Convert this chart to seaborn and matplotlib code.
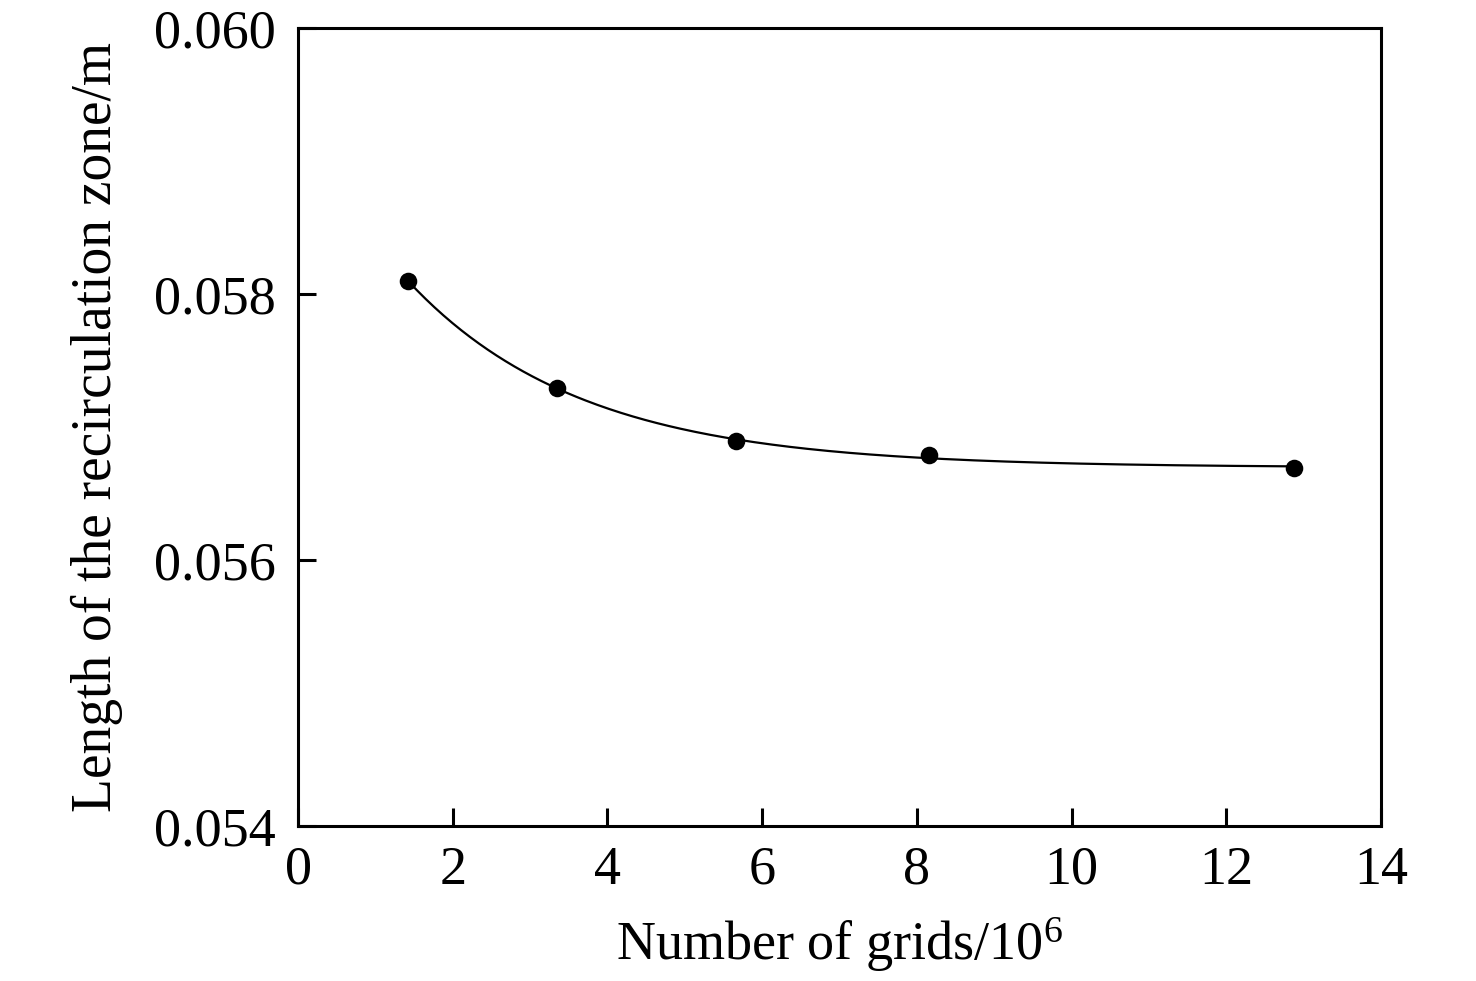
import numpy as np
import pandas as pd
import matplotlib
matplotlib.use('Agg')
import matplotlib.pyplot as plt
import seaborn as sns

# data
grids = [1.42, 3.35, 5.66, 8.16, 12.87]
length = [0.05810, 0.05729, 0.056895, 0.05679, 0.05669]

df = pd.DataFrame({'grids': grids, 'length': length})

# exponential decay fit y = a + b*exp(-c*x) through the points
x = np.array(grids)
y = np.array(length)
best = None
for c in np.linspace(0.05, 2.0, 2000):
    A = np.column_stack([np.ones_like(x), np.exp(-c * x)])
    coef, res, _, _ = np.linalg.lstsq(A, y, rcond=None)
    err = np.sum((A @ coef - y) ** 2)
    if best is None or err < best[0]:
        best = (err, c, coef)
_, c, (a, b) = best
xs = np.linspace(x.min(), x.max(), 300)
fit = pd.DataFrame({'grids': xs, 'length': a + b * np.exp(-c * xs)})

sns.set_theme(style='white')
plt.rcParams['font.family'] = ['Liberation Serif', 'DejaVu Serif']
plt.rcParams['mathtext.fontset'] = 'custom'
plt.rcParams['mathtext.rm'] = 'Liberation Serif'
plt.rcParams['mathtext.it'] = 'Liberation Serif:italic'

fig = plt.figure(figsize=(14.76, 9.81), dpi=100)
ax = fig.add_axes([0.2019, 0.158, 0.7337, 0.8135])

sns.lineplot(data=fit, x='grids', y='length', ax=ax, color='black', linewidth=1.6)
sns.scatterplot(data=df, x='grids', y='length', ax=ax, color='black', s=160,
                linewidth=0, zorder=3)

ax.set_xlim(0, 14)
ax.set_ylim(0.054, 0.060)
ax.set_xticks(range(0, 15, 2))
ax.set_yticks([0.054, 0.056, 0.058, 0.060])
ax.set_yticklabels(['0.054', '0.056', '0.058', '0.060'])

for s in ax.spines.values():
    s.set_linewidth(2.2)
    s.set_color('black')

ax.tick_params(direction='in', length=13, width=2.2, labelsize=39,
               colors='black', bottom=True, left=True)
ax.tick_params(axis='y', pad=16)
ax.tick_params(axis='x', pad=14)

ax.set_xlabel('Number of grids/10$^{\\mathrm{6}}$', fontsize=39, labelpad=14,
              color='black')
ax.set_ylabel('Length of the recirculation zone/m', fontsize=40, labelpad=22,
              color='black')

plt.savefig('out.png', dpi=100)
